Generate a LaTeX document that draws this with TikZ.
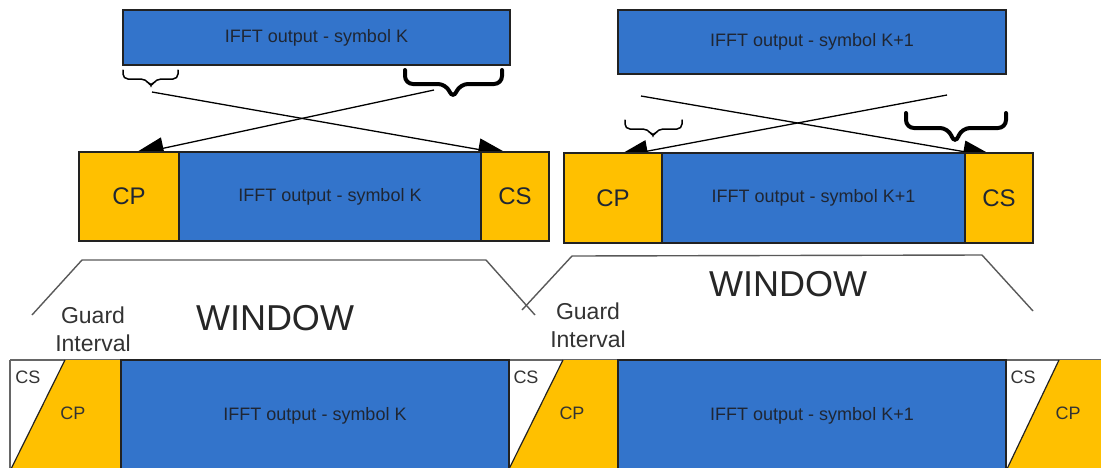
\documentclass[tikz,border=0pt]{standalone}
\usepackage{fontspec}
\setmainfont{Liberation Sans}
\usetikzlibrary{arrows.meta,calc}
\definecolor{fblue}{HTML}{3374CB}
\definecolor{fyel}{HTML}{FFC000}
\definecolor{ftxt}{HTML}{1F2633}
\definecolor{fline}{HTML}{222222}
\begin{document}
\begin{tikzpicture}[x=1pt,y=-1pt,
  box/.style={draw=fline, line width=1.2pt, fill=fblue, inner sep=0pt,
    text=ftxt, font=\fontsize{18}{20}\selectfont},
  ybox/.style={box, fill=fyel, font=\fontsize{24}{26}\selectfont},
  small/.style={inner sep=0pt, text=black!80, font=\fontsize{18}{20}\selectfont},
  guard/.style={inner sep=0pt, align=center, text=black!80, font=\fontsize{23}{28}\selectfont},
  wintxt/.style={inner sep=0pt, text=black!85, font=\fontsize{36}{40}\selectfont},
  conn/.style={draw=black, line width=1.3pt, -{Triangle[length=32pt,width=22pt]}},
  winline/.style={draw=black!65, line width=1.4pt},
  thinbrace/.style={draw=black, line width=1.5pt, rounded corners=5pt, line cap=round},
  boldbrace/.style={draw=black, line width=4pt, rounded corners=8pt, line cap=round}
]
\useasboundingbox (0,0) rectangle (1101,467);
\begin{scope}
\clip (0,0) rectangle (1101,467);

% ---------- top boxes ----------
\node[box, minimum width=387pt, minimum height=55pt] (topL) at (316.5,37.5) {IFFT output - symbol K};
\node[box, minimum width=388pt, minimum height=64pt] (topR) at (812,42) {IFFT output - symbol K+1};

% ---------- braces ----------
\draw[thinbrace] (123,70) -- (123,79) -- (146,79) -- (151,87) -- (156,79) -- (178,79) -- (178,70);
\draw[boldbrace] (405,70) -- (405,84) -- (446,84) -- (453,99) -- (460,84) -- (502,84) -- (502,70);
\draw[thinbrace] (625,120) -- (625,129) -- (648,129) -- (653,137) -- (658,129) -- (682,129) -- (682,120);
\draw[boldbrace] (906,113) -- (906,128) -- (948,128) -- (955,144) -- (962,128) -- (1006,128) -- (1006,113);

% ---------- connectors ----------
\coordinate (aS) at (152,92);
\coordinate (aE) at (510,155);
\coordinate (bS) at (434,90);
\coordinate (bE) at (132,155);
\coordinate (cS) at (641,96);
\coordinate (cE) at (995,157);
\coordinate (dS) at (947,95);
\coordinate (dE) at (616,157);
\draw[conn] (aS) -- (aE);
\draw[conn] (bS) -- (bE);
\draw[conn] (cS) -- (cE);
\draw[conn] (dS) -- (dE);

% ---------- middle row ----------
\node[ybox, minimum width=100pt, minimum height=89pt] (cpL) at (129,196.5) {CP};
\node[box, minimum width=302pt, minimum height=89pt] (bodyL) at (330,196.5) {IFFT output - symbol K};
\node[ybox, minimum width=68pt, minimum height=89pt] (csL) at (515,196.5) {CS};
\node[ybox, minimum width=98pt, minimum height=90pt] (cpR) at (613,198) {CP};
\node[box, minimum width=303pt, minimum height=90pt] (bodyR) at (813.5,198) {IFFT output - symbol K+1};
\node[ybox, minimum width=68pt, minimum height=90pt] (csR) at (999,198) {CS};

% ---------- windows ----------
\draw[winline] (32,315) -- (82,260) -- (486,260) -- (535,315);
\draw[winline] (522,310) -- (572,256) -- (982,255) -- (1033,311);
\node[wintxt] (winL) at (275,318) {WINDOW};
\node[wintxt] (winR) at (788,284) {WINDOW};
\node[guard] (gi1) at (93,329) {Guard\\Interval};
\node[guard] (gi2) at (588,325) {Guard\\Interval};

% ---------- bottom row ----------
\draw[black!60, line width=1.4pt] (10,360) -- (1101,360);
\draw[black!60, line width=1.4pt] (10,360) -- (10,470);
% block 1
\fill[fyel] (65,360) -- (121,360) -- (121,470) -- (10.5,470) -- cycle;
\draw[fline, line width=1.2pt] (65,360) -- (10.5,470);
% block 2
\fill[fyel] (563,360) -- (618,360) -- (618,470) -- (508.5,470) -- cycle;
\draw[fline, line width=1.2pt] (563,360) -- (508.5,470);
% block 3
\fill[fyel] (1059,360) -- (1105,360) -- (1105,470) -- (1006.5,470) -- cycle;
\draw[fline, line width=1.2pt] (1059,360) -- (1006.5,470);

\node[box, minimum width=388pt, minimum height=112pt] (bot1) at (315,416) {IFFT output - symbol K};
\node[box, minimum width=388pt, minimum height=112pt] (bot2) at (812,416) {IFFT output - symbol K+1};

\node[small] (cs1) at (28,377) {CS};
\node[small] (cp1) at (73,413) {CP};
\node[small] (cs2) at (526,377) {CS};
\node[small] (cp2) at (572,413) {CP};
\node[small] (cs3) at (1023,377) {CS};
\node[small] (cp3) at (1068,413) {CP};
\end{scope}
\end{tikzpicture}
\end{document}
